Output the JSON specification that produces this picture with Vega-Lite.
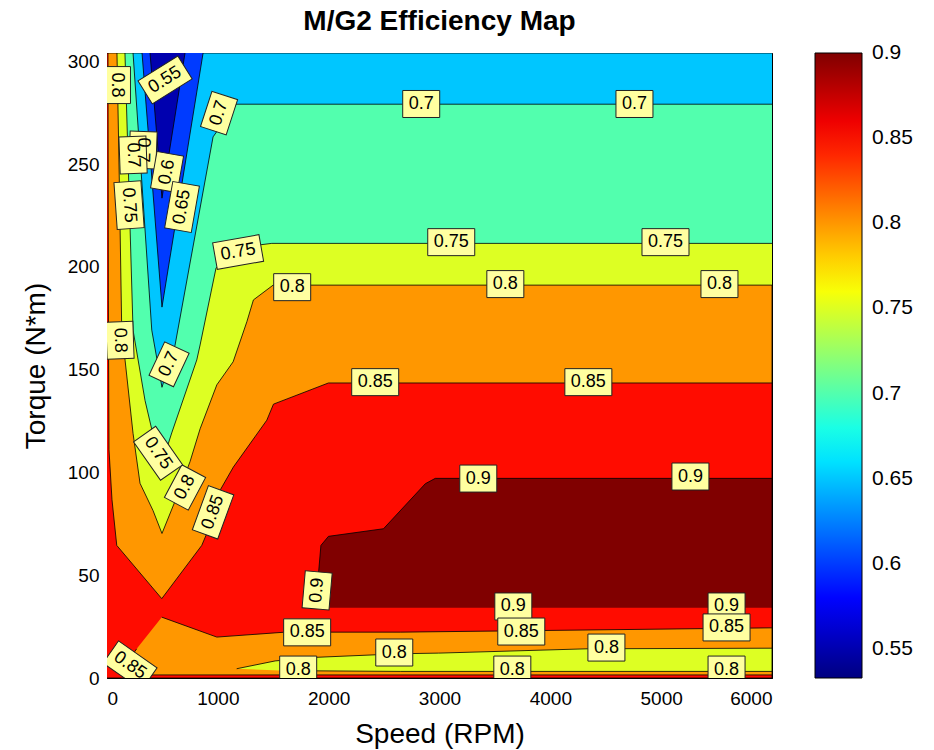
{
  "$schema": "https://vega.github.io/schema/vega-lite/v6.json",
  "width": 665,
  "height": 625,
  "autosize": "none",
  "padding": {"left": 107, "top": 53, "right": 162, "bottom": 72},
  "background": "white",
  "title": {"text": "M/G2 Efficiency Map", "font": "Liberation Sans", "fontSize": 28, "fontWeight": "bold", "color": "black", "anchor": "middle", "baseline": "alphabetic", "offset": -6},
  "config": {
    "view": {"stroke": "black", "strokeWidth": 1},
    "axis": {"labelFont": "Liberation Sans", "labelFontSize": 19, "labelColor": "black", "titleFont": "Liberation Sans", "titleFontSize": 28, "titleFontWeight": "normal", "titleColor": "black", "tickColor": "black", "domain": false, "grid": false, "tickSize": -6}
  },
  "datasets": {
    "poly": [
      {"p":1,"level":0.8,"speed":0,"torque":0},{"p":1,"level":0.8,"speed":6000,"torque":0},{"p":1,"level":0.8,"speed":6000,"torque":304},{"p":1,"level":0.8,"speed":0,"torque":304},
      {"p":2,"level":0.85,"speed":0,"torque":0},{"p":2,"level":0.85,"speed":6000,"torque":0},{"p":2,"level":0.85,"speed":6000,"torque":143.5},{"p":2,"level":0.85,"speed":1998,"torque":143.5},{"p":2,"level":0.85,"speed":1502,"torque":133.2},{"p":2,"level":0.85,"speed":1442,"torque":125.4},{"p":2,"level":0.85,"speed":1140,"torque":102.6},{"p":2,"level":0.85,"speed":1020,"torque":91.3},{"p":2,"level":0.85,"speed":912,"torque":71.8},{"p":2,"level":0.85,"speed":855,"torque":64.5},{"p":2,"level":0.85,"speed":494,"torque":38.6},{"p":2,"level":0.85,"speed":88,"torque":64.5},{"p":2,"level":0.85,"speed":45,"torque":86.7},{"p":2,"level":0.85,"speed":18,"torque":111},{"p":2,"level":0.85,"speed":12,"torque":183.8},{"p":2,"level":0.85,"speed":9,"torque":304},{"p":2,"level":0.85,"speed":0,"torque":304},
      {"p":3,"level":0.8,"speed":494,"torque":29.6},{"p":3,"level":0.8,"speed":991,"torque":19.9},{"p":3,"level":0.8,"speed":1607,"torque":22.3},{"p":3,"level":0.8,"speed":2646,"torque":22.3},{"p":3,"level":0.8,"speed":6000,"torque":24.4},{"p":3,"level":0.8,"speed":6000,"torque":1.5},{"p":3,"level":0.8,"speed":350,"torque":1.5},{"p":3,"level":0.8,"speed":160,"torque":6},{"p":3,"level":0.8,"speed":268,"torque":14.2},
      {"p":4,"level":0.75,"speed":1170,"torque":4.5},{"p":4,"level":0.75,"speed":1517,"torque":8.3},{"p":4,"level":0.75,"speed":1863,"torque":10.0},{"p":4,"level":0.75,"speed":2646,"torque":11.8},{"p":4,"level":0.75,"speed":2992,"torque":12.1},{"p":4,"level":0.75,"speed":4332,"torque":14.2},{"p":4,"level":0.75,"speed":6000,"torque":14.5},{"p":4,"level":0.75,"speed":6000,"torque":3.2},{"p":4,"level":0.75,"speed":2646,"torque":3.2},{"p":4,"level":0.75,"speed":1562,"torque":3.6},
      {"p":5,"level":0.9,"speed":1908,"torque":34.2},{"p":5,"level":0.9,"speed":1908,"torque":50.7},{"p":5,"level":0.9,"speed":1930,"torque":64.5},{"p":5,"level":0.9,"speed":1998,"torque":68.9},{"p":5,"level":0.9,"speed":2495,"torque":72.6},{"p":5,"level":0.9,"speed":2872,"torque":94.5},{"p":5,"level":0.9,"speed":2962,"torque":97.1},{"p":5,"level":0.9,"speed":6000,"torque":97.1},{"p":5,"level":0.9,"speed":6000,"torque":34.2},
      {"p":6,"level":0.75,"speed":6000,"torque":191.1},{"p":6,"level":0.75,"speed":1499,"torque":191.1},{"p":6,"level":0.75,"speed":1321,"torque":183.9},{"p":6,"level":0.75,"speed":1262,"torque":173.3},{"p":6,"level":0.75,"speed":1138,"torque":153.8},{"p":6,"level":0.75,"speed":991,"torque":142.6},{"p":6,"level":0.75,"speed":840,"torque":121.2},{"p":6,"level":0.75,"speed":749,"torque":105.2},{"p":6,"level":0.75,"speed":614,"torque":86},{"p":6,"level":0.75,"speed":496,"torque":70.3},{"p":6,"level":0.75,"speed":415,"torque":81.5},{"p":6,"level":0.75,"speed":298,"torque":94.7},{"p":6,"level":0.75,"speed":235,"torque":119},{"p":6,"level":0.75,"speed":163,"torque":154.6},{"p":6,"level":0.75,"speed":133,"torque":169.2},{"p":6,"level":0.75,"speed":111,"torque":242.2},{"p":6,"level":0.75,"speed":90,"torque":304},{"p":6,"level":0.75,"speed":6000,"torque":304},
      {"p":7,"level":0.7,"speed":6000,"torque":211.4},{"p":7,"level":0.7,"speed":1487,"torque":211.4},{"p":7,"level":0.7,"speed":1382,"torque":210.7},{"p":7,"level":0.7,"speed":984,"torque":199.5},{"p":7,"level":0.7,"speed":840,"torque":162},{"p":7,"level":0.7,"speed":810,"torque":154.7},{"p":7,"level":0.7,"speed":584,"torque":119.2},{"p":7,"level":0.7,"speed":496,"torque":104.4},{"p":7,"level":0.7,"speed":406,"torque":120.5},{"p":7,"level":0.7,"speed":343,"torque":135},{"p":7,"level":0.7,"speed":235,"torque":169.2},{"p":7,"level":0.7,"speed":162,"torque":304},{"p":7,"level":0.7,"speed":6000,"torque":304},
      {"p":8,"level":0.65,"speed":6000,"torque":279.1},{"p":8,"level":0.65,"speed":1165,"torque":279.1},{"p":8,"level":0.65,"speed":957,"torque":263.2},{"p":8,"level":0.65,"speed":614,"torque":161.9},{"p":8,"level":0.65,"speed":496,"torque":141.4},{"p":8,"level":0.65,"speed":404,"torque":169.2},{"p":8,"level":0.65,"speed":313,"torque":242.2},{"p":8,"level":0.65,"speed":235,"torque":304},{"p":8,"level":0.65,"speed":6000,"torque":304},
      {"p":9,"level":0.6,"speed":316,"torque":304},{"p":9,"level":0.6,"speed":496,"torque":180.4},{"p":9,"level":0.6,"speed":867,"torque":304},
      {"p":10,"level":0.55,"speed":388,"torque":304},{"p":10,"level":0.55,"speed":496,"torque":233.4},{"p":10,"level":0.55,"speed":704,"torque":304}
    ],
    "labels": [
      {"t":"0.8","speed":90,"torque":288.4,"rot":90},
      {"t":"0.55","speed":524,"torque":290.9,"rot":-32},
      {"t":"0.7","speed":1011,"torque":274.8,"rot":-72},
      {"t":"0.7","speed":325,"torque":256.8,"rot":92},
      {"t":"0.7","speed":235,"torque":254.4,"rot":88},
      {"t":"0.6","speed":542,"torque":246.1,"rot":-80},
      {"t":"0.65","speed":677,"torque":229.1,"rot":-80},
      {"t":"0.75","speed":199,"torque":230.0,"rot":86},
      {"t":"0.75","speed":1183,"torque":207.2,"rot":-10},
      {"t":"0.7","speed":2835,"torque":279.2,"rot":0},
      {"t":"0.7","speed":4759,"torque":279.2,"rot":0},
      {"t":"0.75","speed":3106,"torque":212.0,"rot":0},
      {"t":"0.75","speed":5039,"torque":212.0,"rot":0},
      {"t":"0.8","speed":1671,"torque":190.1,"rot":0},
      {"t":"0.8","speed":3594,"torque":191.6,"rot":0},
      {"t":"0.8","speed":5526,"torque":191.6,"rot":0},
      {"t":"0.8","speed":117,"torque":164.3,"rot":88},
      {"t":"0.7","speed":560,"torque":152.6,"rot":-65},
      {"t":"0.85","speed":2420,"torque":143.9,"rot":0},
      {"t":"0.85","speed":4343,"torque":143.9,"rot":0},
      {"t":"0.75","speed":461,"torque":109.3,"rot":55},
      {"t":"0.8","speed":704,"torque":92.7,"rot":-62},
      {"t":"0.85","speed":957,"torque":80.6,"rot":-70},
      {"t":"0.9","speed":3350,"torque":97.0,"rot":0},
      {"t":"0.9","speed":5264,"torque":98.0,"rot":0},
      {"t":"0.9","speed":1896,"torque":42.6,"rot":-85},
      {"t":"0.85","speed":1806,"torque":22.2,"rot":0},
      {"t":"0.85","speed":3738,"torque":22.6,"rot":0},
      {"t":"0.85","speed":5590,"torque":24.6,"rot":0},
      {"t":"0.9","speed":3666,"torque":34.8,"rot":0},
      {"t":"0.9","speed":5590,"torque":34.8,"rot":0},
      {"t":"0.8","speed":2592,"torque":12.4,"rot":0},
      {"t":"0.8","speed":4506,"torque":14.8,"rot":0},
      {"t":"0.8","speed":1725,"torque":4.1,"rot":0},
      {"t":"0.8","speed":3657,"torque":4.1,"rot":0},
      {"t":"0.8","speed":5590,"torque":4.1,"rot":0},
      {"t":"0.85","speed":208,"torque":6.1,"rot":35}
    ]
  },
  "encoding": {
    "x": {"field": "speed", "type": "quantitative", "scale": {"domain": [0, 6000], "nice": false, "zero": false},
          "axis": {"orient": "bottom", "title": "Speed (RPM)", "values": [0,1000,2000,3000,4000,5000,6000], "format": "d", "labelPadding": 17, "titlePadding": 12}},
    "y": {"field": "torque", "type": "quantitative", "scale": {"domain": [0, 304], "nice": false, "zero": false},
          "axis": {"orient": "left", "title": "Torque (N*m)", "values": [0,50,100,150,200,250,300], "format": "d", "labelPadding": 14, "titlePadding": 17}},
    "color": {"field": "level", "type": "quantitative",
              "scale": {"domain": [0.533, 0.578875, 0.62475, 0.670625, 0.7165, 0.762375, 0.80825, 0.854125, 0.9],
                        "range": ["#000080", "#0000ff", "#0080ff", "#00ffff", "#80ff80", "#ffff00", "#ff8000", "#ff0000", "#800000"],
                        "interpolate": "rgb"},
              "legend": {"title": null, "orient": "none", "legendX": 708, "legendY": 0, "direction": "vertical",
                         "gradientLength": 625, "gradientThickness": 47, "gradientStrokeColor": "black", "gradientStrokeWidth": 1,
                         "values": [0.55, 0.6, 0.65, 0.7, 0.75, 0.8, 0.85, 0.9], "format": "~g", "labelFont": "Liberation Sans", "labelFontSize": 21,
                         "labelColor": "black", "labelOffset": 10, "labelFlush": false, "labelOverlap": false,
                         "encode": {"labels": {"update": {"baseline": {"value": "middle"}}}}}}
  },
  "layer": [
    {"layer": [
      {"data": {"name": "poly"}, "transform": [{"filter": "datum.p == 1"}], "mark": {"type": "line", "filled": true, "stroke": "black", "strokeWidth": 0.8, "clip": true}, "encoding": {"order": {"value": null}}},
      {"data": {"name": "poly"}, "transform": [{"filter": "datum.p == 2"}], "mark": {"type": "line", "filled": true, "stroke": "black", "strokeWidth": 0.8, "clip": true}, "encoding": {"order": {"value": null}}},
      {"data": {"name": "poly"}, "transform": [{"filter": "datum.p == 3"}], "mark": {"type": "line", "filled": true, "stroke": "black", "strokeWidth": 0.8, "clip": true}, "encoding": {"order": {"value": null}}},
      {"data": {"name": "poly"}, "transform": [{"filter": "datum.p == 4"}], "mark": {"type": "line", "filled": true, "stroke": "black", "strokeWidth": 0.8, "clip": true}, "encoding": {"order": {"value": null}}},
      {"data": {"name": "poly"}, "transform": [{"filter": "datum.p == 5"}], "mark": {"type": "line", "filled": true, "stroke": "black", "strokeWidth": 0.8, "clip": true}, "encoding": {"order": {"value": null}}},
      {"data": {"name": "poly"}, "transform": [{"filter": "datum.p == 6"}], "mark": {"type": "line", "filled": true, "stroke": "black", "strokeWidth": 0.8, "clip": true}, "encoding": {"order": {"value": null}}},
      {"data": {"name": "poly"}, "transform": [{"filter": "datum.p == 7"}], "mark": {"type": "line", "filled": true, "stroke": "black", "strokeWidth": 0.8, "clip": true}, "encoding": {"order": {"value": null}}},
      {"data": {"name": "poly"}, "transform": [{"filter": "datum.p == 8"}], "mark": {"type": "line", "filled": true, "stroke": "black", "strokeWidth": 0.8, "clip": true}, "encoding": {"order": {"value": null}}},
      {"data": {"name": "poly"}, "transform": [{"filter": "datum.p == 9"}], "mark": {"type": "line", "filled": true, "stroke": "black", "strokeWidth": 0.8, "clip": true}, "encoding": {"order": {"value": null}}},
      {"data": {"name": "poly"}, "transform": [{"filter": "datum.p == 10"}], "mark": {"type": "line", "filled": true, "stroke": "black", "strokeWidth": 0.8, "clip": true}, "encoding": {"order": {"value": null}}},
      {"data": {"name": "labels"}, "transform": [{"filter": "length(datum.t) == 3"}],
       "mark": {"type": "point", "shape": "M-1,-0.7297H1V0.7297H-1Z", "size": 1369, "filled": true, "fill": "#ffffa0", "stroke": "#222222", "strokeWidth": 1, "opacity": 1, "clip": true},
       "encoding": {"color": {"value": "#ffffa0"}, "angle": {"field": "rot", "type": "quantitative", "scale": null}}},
      {"data": {"name": "labels"}, "transform": [{"filter": "length(datum.t) == 4"}],
       "mark": {"type": "point", "shape": "M-1,-0.5745H1V0.5745H-1Z", "size": 2209, "filled": true, "fill": "#ffffa0", "stroke": "#222222", "strokeWidth": 1, "opacity": 1, "clip": true},
       "encoding": {"color": {"value": "#ffffa0"}, "angle": {"field": "rot", "type": "quantitative", "scale": null}}}
    ]},
    {"data": {"name": "labels"},
     "mark": {"type": "text", "font": "Liberation Sans", "fontSize": 18, "align": "center", "baseline": "middle", "clip": true},
     "encoding": {
       "x": {"field": "speed", "type": "quantitative", "axis": {"orient": "top", "labels": false, "title": null, "values": [0,1000,2000,3000,4000,5000,6000]}},
       "y": {"field": "torque", "type": "quantitative", "axis": {"orient": "right", "labels": false, "title": null, "values": [0,50,100,150,200,250,300]}},
       "text": {"field": "t"}, "color": {"value": "black"}, "angle": {"field": "rot", "type": "quantitative", "scale": null}}}
  ]
}
